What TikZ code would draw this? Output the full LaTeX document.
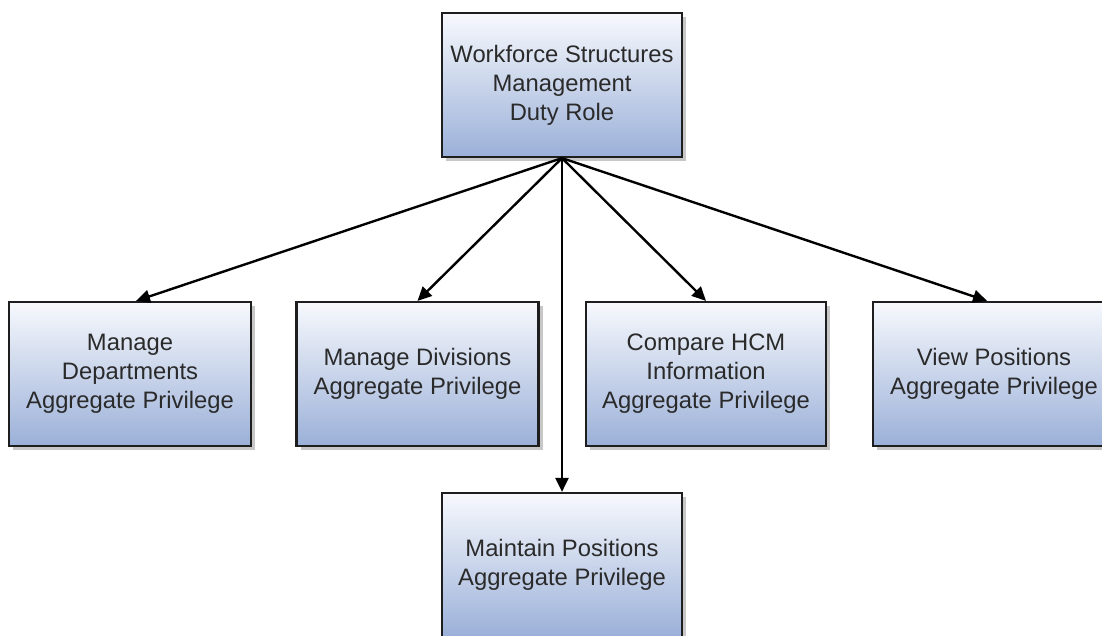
\documentclass[tikz,border=0pt]{standalone}
\usepackage{fontspec}
\setmainfont{Liberation Sans}
\usetikzlibrary{arrows.meta,shadows}
\definecolor{boxtop}{HTML}{F7F9FD}
\definecolor{boxbot}{HTML}{9BB0D8}
\definecolor{boxline}{HTML}{1E1E1E}
\definecolor{txt}{HTML}{2A2A2A}
\tikzset{
  privbox/.style={draw=boxline, line width=2.2pt, top color=boxtop, bottom color=boxbot,
    minimum width=242pt, minimum height=144pt, inner sep=0pt, align=center,
    text=txt, font=\fontsize{23.8pt}{29pt}\selectfont,
    drop shadow={shadow xshift=4pt, shadow yshift=-4pt, fill=black, opacity=0.22}},
  conn/.style={draw=black, line width=2.4pt, -{Triangle[length=14pt,width=13pt]}}
}
\begin{document}
\begin{tikzpicture}[x=1pt,y=-1pt]
\useasboundingbox (0,0) rectangle (1102,635);
\node[privbox, minimum width=240pt] (top) at (562,85) {Workforce Structures\\Management\\Duty Role};
\node[privbox] (a) at (130,374) {Manage\\Departments\\Aggregate Privilege};
\node[privbox] (b) at (417.5,374) {Manage Divisions\\Aggregate Privilege};
\node[privbox, minimum width=240pt] (c) at (706,374) {Compare HCM\\Information\\Aggregate Privilege};
\node[privbox] (d) at (994,374) {View Positions\\Aggregate Privilege};
\node[privbox, minimum width=240pt] (e) at (562,565) {Maintain Positions\\Aggregate Privilege};
\draw[conn] (top.south) -- ([xshift=6pt]a.north);
\draw[conn] (top.south) -- (b.north);
\draw[conn] (top.south) -- (c.north);
\draw[conn] (top.south) -- ([xshift=-7pt]d.north);
\draw[conn] (top.south) -- (e.north);
\end{tikzpicture}
\end{document}
